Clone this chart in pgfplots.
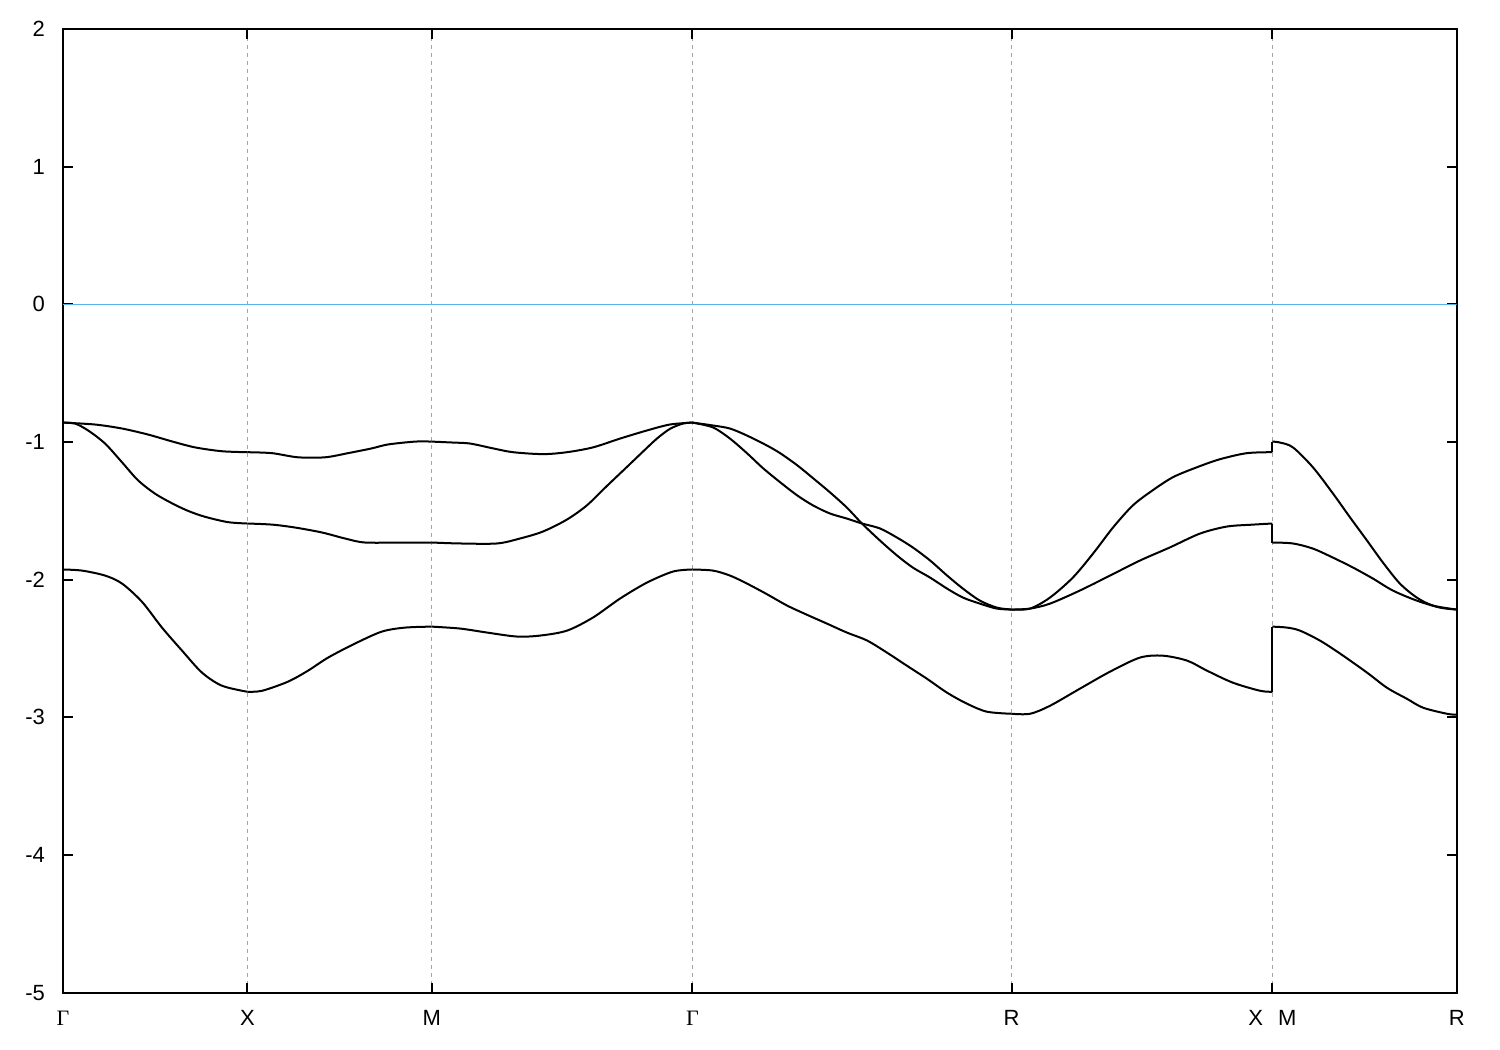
\documentclass[border=0pt]{standalone}
\usepackage{pgfplots}
\pgfplotsset{compat=1.18}
\usepackage{fontspec}
\setmainfont{Liberation Sans}
\newfontfamily\serifg{Liberation Serif}
\definecolor{fermi}{RGB}{86,180,233}
\pgfplotsset{band/.style={black, smooth, tension=0.5}}
\begin{document}
\begin{tikzpicture}
\begin{axis}[name=ax, scale only axis, width=696.85pt, height=481.85pt,
 xmin=0, xmax=3.7802, ymin=-5, ymax=2,
 xtick={0,0.5,1,1.7071,2.5731,3.2802,3.7802},
 xticklabels={{\serifg Γ},X,M,{\serifg Γ},R,{X\hspace{7.5pt}M},R},
 ytick={-5,-4,-3,-2,-1,0,1,2},
 yticklabels={-5,-4,-3,-2,-1,0,1,2},
 tick align=inside, major tick length=5pt,
 xmajorgrids, grid style={black!35, dash pattern=on 2pt off 2pt, line width=0.5pt},
 axis line style={line width=1pt}, every tick/.style={black, line width=1pt},
 tick label style={font=\fontsize{11}{13}\selectfont},
 xticklabel style={yshift=-5pt, text height=8pt},
 yticklabel style={xshift=-5.5pt},
 every axis plot/.append style={line width=1pt, line join=round},
]
\addplot[fermi, line width=0.8pt] coordinates {(0,0) (3.7802,0)};
% ---------------- band 1 (top)
\addplot[band] coordinates {(0,-0.859) (0.087,-0.873) (0.160,-0.902) (0.231,-0.946) (0.296,-0.996) (0.358,-1.039) (0.431,-1.067) (0.5,-1.074)};
\addplot[band] coordinates {(0.5,-1.074) (0.567,-1.081) (0.637,-1.111) (0.711,-1.111) (0.773,-1.081) (0.838,-1.046) (0.881,-1.018) (0.955,-0.997) (1.0,-0.997)};
\addplot[band] coordinates {(1.0,-0.997) (1.058,-1.004) (1.104,-1.011) (1.166,-1.046) (1.2205,-1.074) (1.302,-1.088) (1.367,-1.074) (1.4375,-1.039) (1.511,-0.975) (1.584,-0.916) (1.646,-0.873) (1.7071,-0.859)};
\addplot[band] coordinates {(1.7071,-0.859) (1.763,-0.880) (1.809,-0.902) (1.855,-0.953) (1.909,-1.025) (1.945,-1.081) (1.991,-1.168) (2.034,-1.262) (2.080,-1.365) (2.126,-1.476) (2.167,-1.592) (2.216,-1.716) (2.262,-1.824) (2.305,-1.912) (2.352,-1.985) (2.398,-2.065) (2.441,-2.130) (2.487,-2.174) (2.533,-2.210) (2.5731,-2.217)};
\addplot[band] coordinates {(2.5731,-2.217) (2.623,-2.210) (2.677,-2.130) (2.739,-1.985) (2.794,-1.810) (2.848,-1.621) (2.902,-1.460) (2.956,-1.350) (3.011,-1.255) (3.076,-1.183) (3.138,-1.125) (3.211,-1.081) (3.2802,-1.074)};
\addplot[black] coordinates {(3.2802,-1.074) (3.2802,-0.997)};
\addplot[band] coordinates {(3.2802,-0.997) (3.301,-1.004) (3.336,-1.039) (3.390,-1.183) (3.444,-1.372) (3.491,-1.548) (3.537,-1.716) (3.580,-1.875) (3.626,-2.028) (3.672,-2.130) (3.716,-2.188) (3.7802,-2.217)};
% ---------------- band 2 (middle)
\addplot[band] coordinates {(0,-0.859) (0.0325,-0.866) (0.068,-0.916) (0.114,-1.011) (0.160,-1.147) (0.203,-1.277) (0.2495,-1.375) (0.2956,-1.445) (0.339,-1.500) (0.385,-1.543) (0.4475,-1.582) (0.5,-1.592)};
\addplot[band] coordinates {(0.5,-1.592) (0.567,-1.600) (0.629,-1.621) (0.702,-1.657) (0.765,-1.701) (0.819,-1.730) (0.919,-1.730) (1.0,-1.730)};
\addplot[band] coordinates {(1.0,-1.730) (1.077,-1.737) (1.177,-1.737) (1.2395,-1.701) (1.302,-1.650) (1.367,-1.563) (1.421,-1.460) (1.475,-1.320) (1.530,-1.180) (1.573,-1.070) (1.611,-0.975) (1.646,-0.905) (1.6815,-0.866) (1.7071,-0.859)};
\addplot[band] coordinates {(1.7071,-0.859) (1.763,-0.894) (1.809,-0.975) (1.855,-1.081) (1.8986,-1.190) (1.945,-1.292) (1.991,-1.387) (2.034,-1.460) (2.080,-1.519) (2.126,-1.556) (2.167,-1.592) (2.216,-1.628) (2.262,-1.694) (2.305,-1.766) (2.352,-1.861) (2.398,-1.970) (2.441,-2.065) (2.487,-2.152) (2.533,-2.203) (2.5731,-2.217)};
\addplot[band] coordinates {(2.5731,-2.217) (2.623,-2.210) (2.677,-2.174) (2.758,-2.079) (2.840,-1.970) (2.921,-1.861) (3.002,-1.766) (3.084,-1.665) (3.157,-1.614) (3.228,-1.600) (3.2802,-1.592)};
\addplot[black] coordinates {(3.2802,-1.592) (3.2802,-1.730)};
\addplot[band] coordinates {(3.2802,-1.730) (3.336,-1.737) (3.390,-1.774) (3.444,-1.839) (3.499,-1.912) (3.553,-1.992) (3.607,-2.079) (3.672,-2.152) (3.735,-2.203) (3.7802,-2.217)};
% ---------------- band 3 (bottom)
\addplot[band] coordinates {(0,-1.926) (0.0515,-1.934) (0.114,-1.970) (0.160,-2.028) (0.214,-2.160) (0.2685,-2.348) (0.3228,-2.515) (0.377,-2.675) (0.431,-2.770) (0.5,-2.814)};
\addplot[band] coordinates {(0.5,-2.814) (0.540,-2.807) (0.610,-2.741) (0.6645,-2.661) (0.719,-2.566) (0.792,-2.464) (0.865,-2.377) (0.928,-2.348) (1.0,-2.341)};
\addplot[band] coordinates {(1.0,-2.341) (1.077,-2.355) (1.150,-2.384) (1.231,-2.413) (1.294,-2.406) (1.367,-2.370) (1.4375,-2.275) (1.511,-2.137) (1.584,-2.021) (1.6545,-1.941) (1.7071,-1.926)};
\addplot[band] coordinates {(1.7071,-1.926) (1.763,-1.934) (1.809,-1.970) (1.855,-2.028) (1.909,-2.105) (1.964,-2.188) (2.018,-2.255) (2.072,-2.319) (2.126,-2.384) (2.181,-2.442) (2.235,-2.530) (2.289,-2.625) (2.343,-2.719) (2.398,-2.821) (2.452,-2.901) (2.506,-2.959) (2.5731,-2.974)};
\addplot[band] coordinates {(2.5731,-2.974) (2.623,-2.974) (2.677,-2.916) (2.758,-2.792) (2.840,-2.668) (2.921,-2.566) (2.983,-2.552) (3.049,-2.588) (3.103,-2.661) (3.173,-2.748) (3.247,-2.807) (3.2802,-2.814)};
\addplot[black] coordinates {(3.2802,-2.814) (3.2802,-2.341)};
\addplot[band] coordinates {(3.2802,-2.341) (3.320,-2.348) (3.355,-2.370) (3.409,-2.442) (3.464,-2.537) (3.537,-2.675) (3.591,-2.785) (3.645,-2.865) (3.689,-2.930) (3.754,-2.974) (3.7802,-2.981)};
\end{axis}
\pgfresetboundingbox
\path ([shift={(-31.5pt,-28.65pt)}]ax.south west) rectangle ([shift={(21.65pt,14.5pt)}]ax.north east);
\end{tikzpicture}
\end{document}
